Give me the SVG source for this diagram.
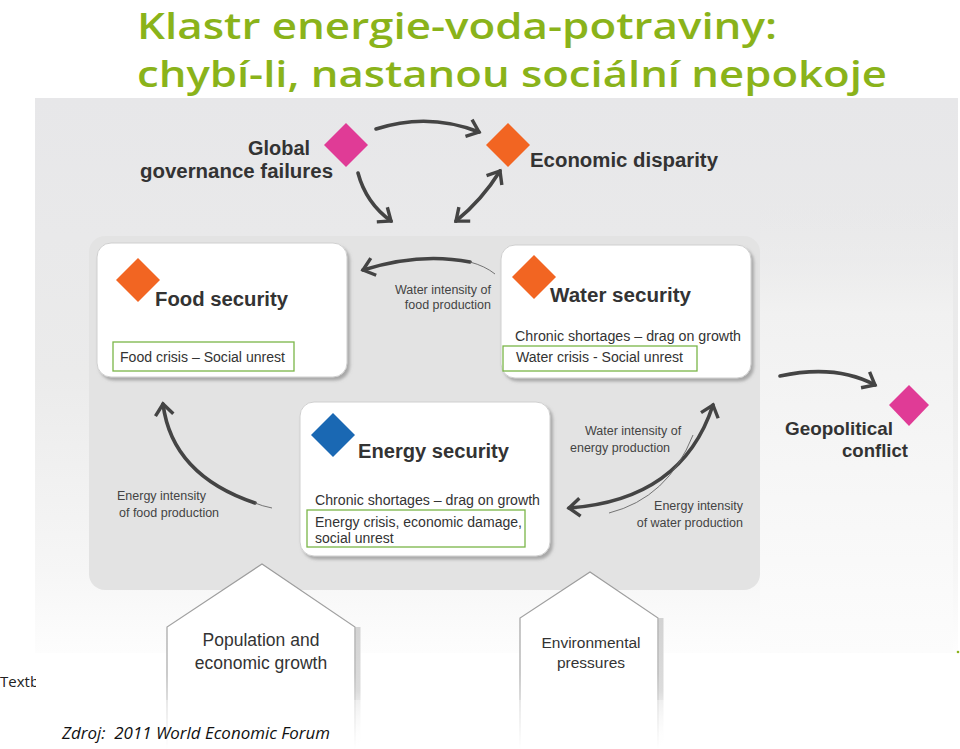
<svg xmlns="http://www.w3.org/2000/svg" width="960" height="749" viewBox="0 0 960 749">
<defs>
<style>
.title{font-family:"Open Sans","Liberation Sans",sans-serif;font-size:36px;fill:#8ab31a;font-weight:600}
.h{font-family:"Liberation Sans",Arial,sans-serif;font-weight:bold;fill:#333}
.t{font-family:"Liberation Sans",Arial,sans-serif;fill:#333}
.s{font-family:"Liberation Sans",Arial,sans-serif;fill:#444;font-size:12.5px}
.card{fill:#fff;stroke:#cfcfcf;stroke-width:1}
.gbox{fill:none;stroke:#7ab648;stroke-width:1.3}
.arr{fill:none;stroke:#444;stroke-width:3.6;stroke-linecap:round}
.thin{fill:none;stroke:#666;stroke-width:0.9}
.house{fill:#fff;stroke:url(#houseStroke);stroke-width:1.2}
</style>
<linearGradient id="bg" x1="0" y1="0" x2="0" y2="1">
<stop offset="0" stop-color="#e7e7e9"/>
<stop offset="0.5" stop-color="#ebebeb"/>
<stop offset="0.85" stop-color="#f6f6f6"/>
<stop offset="1" stop-color="#fdfdfd"/>
</linearGradient>
<linearGradient id="rightbg" gradientUnits="userSpaceOnUse" x1="0" y1="200" x2="0" y2="653">
<stop offset="0" stop-color="#eaeaeb" stop-opacity="0"/>
<stop offset="0.25" stop-color="#f1f1f1"/>
<stop offset="1" stop-color="#fcfcfc"/>
</linearGradient>
<linearGradient id="houseStroke" gradientUnits="userSpaceOnUse" x1="0" y1="560" x2="0" y2="749">
<stop offset="0" stop-color="#9a9a9a"/>
<stop offset="0.6" stop-color="#a8a8a8"/>
<stop offset="1" stop-color="#ffffff"/>
</linearGradient>
<linearGradient id="houseShade" gradientUnits="userSpaceOnUse" x1="0" y1="620" x2="0" y2="749">
<stop offset="0" stop-color="#d2d2d2"/>
<stop offset="0.55" stop-color="#dcdcdc"/>
<stop offset="1" stop-color="#ffffff" stop-opacity="0"/>
</linearGradient>
<filter id="sh" x="-10%" y="-10%" width="125%" height="130%">
<feDropShadow dx="2.5" dy="3" stdDeviation="1.8" flood-color="#777" flood-opacity="0.55"/>
</filter>
<clipPath id="leftclip"><rect x="0" y="600" width="36" height="149"/></clipPath>
<marker id="ah" markerUnits="userSpaceOnUse" viewBox="0 0 24 24" refX="18" refY="12" markerWidth="24" markerHeight="24" orient="auto-start-reverse">
<path d="M7,3 L18,12 L7,21" fill="none" stroke="#444" stroke-width="3.4" stroke-linecap="butt" stroke-linejoin="miter"/>
</marker>
</defs>

<g id="title">
<text class="title" x="137" y="39" textLength="640" lengthAdjust="spacingAndGlyphs">Klastr energie-voda-potraviny:</text>
<text class="title" x="137" y="87" textLength="750" lengthAdjust="spacingAndGlyphs">chybí-li, nastanou sociální nepokoje</text>
</g>

<g id="textbox-left" clip-path="url(#leftclip)">
<text x="0" y="687" style="font-family:'Open Sans','Liberation Sans',sans-serif;font-size:15px;fill:#222">Textbox</text>
</g>

<g id="background">
<rect x="35" y="98" width="923" height="555" fill="url(#bg)"/>
<rect x="760" y="200" width="193" height="453" fill="url(#rightbg)"/>
<rect x="89" y="236" width="671" height="354" rx="16" fill="#e3e3e3"/>
<circle cx="958" cy="652" r="1.3" fill="#8cb31d"/>
</g>

<g id="pop-growth">
<path d="M358,627 L358,749" stroke="url(#houseShade)" stroke-width="5" fill="none"/>
<path class="house" d="M167,749 L167,627 L262,564 L355,627 L355,749"/>
<text class="t" x="261" y="646" text-anchor="middle" font-size="17.5">Population and</text>
<text class="t" x="261" y="669" text-anchor="middle" font-size="17.5">economic growth</text>
</g>

<g id="env-pressures">
<path d="M661,618 L661,745" stroke="url(#houseShade)" stroke-width="5" fill="none"/>
<path class="house" d="M520,749 L520,618 L590,572 L658,618 L658,749"/>
<text class="t" x="591" y="648" text-anchor="middle" font-size="15.5">Environmental</text>
<text class="t" x="591" y="668" text-anchor="middle" font-size="15.5">pressures</text>
</g>

<rect x="150" y="700" width="530" height="49" fill="#fff" opacity="0.35"/>

<g id="food-security">
<rect class="card" x="97" y="243" width="250" height="134" rx="14" filter="url(#sh)"/>
<path d="M138,258 L160,280 L138,302 L116,280 Z" fill="#f26522"/>
<text class="h" x="155" y="306" font-size="20" textLength="133" lengthAdjust="spacingAndGlyphs">Food security</text>
<rect class="gbox" x="113" y="342" width="181" height="29"/>
<text class="t" x="120" y="362" font-size="14" textLength="165" lengthAdjust="spacingAndGlyphs">Food crisis – Social unrest</text>
</g>

<g id="water-security">
<rect class="card" x="501" y="245" width="250" height="133" rx="14" filter="url(#sh)"/>
<path d="M534,255 L556,277 L534,299 L512,277 Z" fill="#f26522"/>
<text class="h" x="550" y="302" font-size="20" textLength="141" lengthAdjust="spacingAndGlyphs">Water security</text>
<text class="t" x="515" y="341" font-size="14" textLength="226" lengthAdjust="spacingAndGlyphs">Chronic shortages – drag on growth</text>
<rect class="gbox" x="503" y="346" width="194" height="25"/>
<text class="t" x="516" y="362" font-size="14" textLength="167" lengthAdjust="spacingAndGlyphs">Water crisis - Social unrest</text>
</g>

<g id="energy-security">
<rect class="card" x="300" y="402" width="250" height="154" rx="14" filter="url(#sh)"/>
<path d="M333,413 L355,435 L333,457 L311,435 Z" fill="#1a68b3"/>
<text class="h" x="358" y="458" font-size="20" textLength="151" lengthAdjust="spacingAndGlyphs">Energy security</text>
<text class="t" x="315" y="505" font-size="14" textLength="225" lengthAdjust="spacingAndGlyphs">Chronic shortages – drag on growth</text>
<rect class="gbox" x="307" y="510" width="218" height="37"/>
<text class="t" x="315" y="527" font-size="14" textLength="207" lengthAdjust="spacingAndGlyphs">Energy crisis, economic damage,</text>
<text class="t" x="315" y="543" font-size="14">social unrest</text>
</g>

<g id="global-governance">
<path d="M346,123 L368,145 L346,167 L324,145 Z" fill="#e03b96"/>
<text class="h" x="248" y="155" font-size="20" textLength="62" lengthAdjust="spacingAndGlyphs">Global</text>
<text class="h" x="140" y="178" font-size="20" textLength="193" lengthAdjust="spacingAndGlyphs">governance failures</text>
</g>

<g id="economic-disparity">
<path d="M508,123 L530,145 L508,167 L486,145 Z" fill="#f26522"/>
<text class="h" x="530" y="167" font-size="20" textLength="188" lengthAdjust="spacingAndGlyphs">Economic disparity</text>
</g>

<g id="geopolitical-conflict">
<path d="M909,385 L929,405 L909,426 L889,405 Z" fill="#e03b96"/>
<text class="h" x="785" y="435" font-size="18.5" textLength="108" lengthAdjust="spacingAndGlyphs">Geopolitical</text>
<text class="h" x="842" y="457" font-size="18.5" textLength="66" lengthAdjust="spacingAndGlyphs">conflict</text>
</g>

<g id="connectors">
<path class="arr" d="M376,129 Q428,112 479,132" marker-end="url(#ah)"/>
<path class="arr" d="M358,173 Q366,203 391,221" marker-end="url(#ah)"/>
<path class="arr" d="M456,221 Q482,200 500,171" marker-start="url(#ah)" marker-end="url(#ah)"/>
<path class="arr" d="M470,262 Q420,252 363,270" marker-end="url(#ah)"/>
<path class="thin" d="M495,274 Q485,266 470,262"/>
<path class="arr" d="M255,503 Q172,475 163,404" marker-end="url(#ah)"/>
<path class="thin" d="M272,508 Q262,506 255,503"/>
<path class="arr" d="M569,508 Q682,500 713,405" marker-start="url(#ah)" marker-end="url(#ah)"/>
<path class="thin" d="M609,513 Q668,498 693,435"/>
<path class="arr" d="M780,376 Q836,364 875,385" marker-end="url(#ah)"/>
<text class="s" x="491" y="294" text-anchor="end">Water intensity of</text>
<text class="s" x="491" y="309" text-anchor="end">food production</text>
<text class="s" x="117" y="500">Energy intensity</text>
<text class="s" x="119" y="517">of food production</text>
<text class="s" x="585" y="435">Water intensity of</text>
<text class="s" x="570" y="452">energy production</text>
<text class="s" x="743" y="510" text-anchor="end">Energy intensity</text>
<text class="s" x="743" y="527" text-anchor="end">of water production</text>
</g>

<g id="source">
<text x="62" y="739" xml:space="preserve" style="font-family:'Open Sans','Liberation Sans',sans-serif;font-style:italic;font-size:16px;fill:#111;white-space:pre" textLength="268" lengthAdjust="spacingAndGlyphs">Zdroj:  2011 World Economic Forum</text>
</g>
</svg>
